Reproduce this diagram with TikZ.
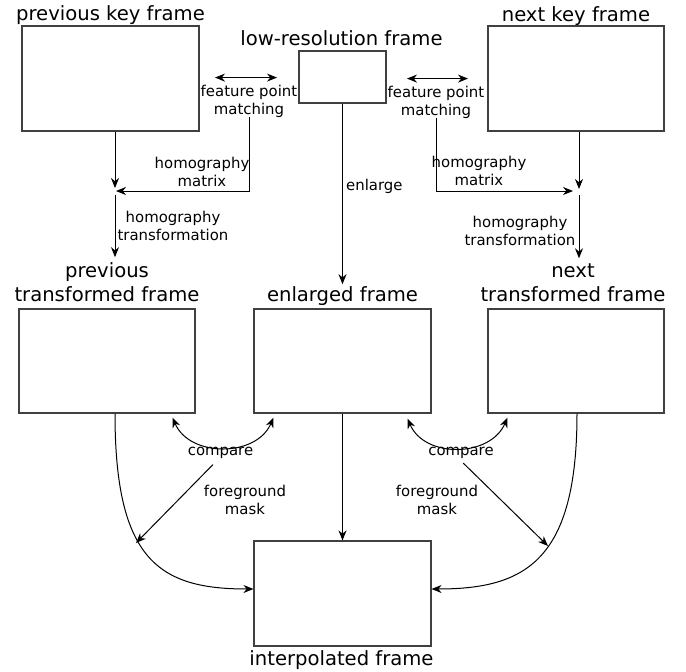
\documentclass[tikz,border=0pt]{standalone}
\usepackage{fontspec}
\setmainfont{DejaVu Sans}
\usetikzlibrary{positioning,arrows.meta}
\tikzset{
  frame/.style={draw=black!75, line width=1.1pt, minimum width=177pt, minimum height=105pt, inner sep=0pt},
  title/.style={font=\fontsize{19.6}{24}\selectfont, inner sep=0pt, align=center, text depth=0pt},
  note/.style={font=\fontsize{14.9}{18}\selectfont, inner sep=0pt, align=center},
  arr/.style={line width=1pt, -{Stealth[length=10pt,width=8pt]}},
  darr/.style={line width=1pt, {Stealth[length=10pt,width=8pt]}-{Stealth[length=10pt,width=8pt]}},
}
\begin{document}
\begin{tikzpicture}[x=1pt,y=-1pt]
  \useasboundingbox (0,0) rectangle (686,672);
  % frames
  \node[frame] (pkf) at (110.5,78.5) {};
  \node[frame, minimum width=87pt, minimum height=52pt] (lrf) at (342.5,77) {};
  \node[frame, minimum width=176pt] (nkf) at (576,78.5) {};
  \node[frame, minimum width=176pt, minimum height=104pt] (ptf) at (107,361) {};
  \node[frame, minimum height=104pt] (enf) at (342.5,361) {};
  \node[frame, minimum width=176pt, minimum height=104pt] (ntf) at (576,361) {};
  \node[frame] (ipf) at (342.5,593.5) {};
  % titles
  \node[title, above=5pt of pkf] (pkft) {previous key frame};
  \node[title, above=5pt of lrf, xshift=-1pt] (lrft) {low-resolution frame};
  \node[title, above=4pt of nkf] (nkft) {next key frame};
  \node[title, above=7pt of ptf] (ptft) {previous\\transformed frame};
  \node[title, above=7pt of enf] (enft) {enlarged frame};
  \node[title, above=7pt of ntf, xshift=-3pt] (ntft) {next\\transformed frame};
  \node[title, below=4pt of ipf, xshift=-1pt] (ipft) {interpolated frame};
  % junctions
  \coordinate (jL) at (115,191);
  \coordinate (jR) at (579,191);
  % top notes
  \node[note] (fpmL) at (249,101) {feature point\\matching};
  \node[note] (fpmR) at (436,102) {feature point\\matching};
  \node[note] (hmL) at (202,172) {homography\\matrix};
  \node[note] (htL) at (173,226) {homography\\transformation};
  \node[note] (hmR) at (479,171) {homography\\matrix};
  \node[note] (htR) at (520,231) {homography\\transformation};
  \node[note, anchor=west] (enl) at (346,186) {enlarge};
  \draw[darr] ([shift={(-34,-7)}]fpmL.north) -- ([shift={(28,-7)}]fpmL.north);
  \draw[darr] ([shift={(-29,-7)}]fpmR.north) -- ([shift={(32,-7)}]fpmR.north);
  \draw[arr, shorten >=1pt] (fpmL.south) |- (jL);
  \draw[arr, shorten >=3pt] (pkf.south -| jL) -- (jL);
  \draw[arr, shorten <=4pt, shorten >=5pt] (jL) -- (jL |- ptft.north);
  \draw[arr, shorten >=6pt] (fpmR.south) |- (jR);
  \draw[arr, shorten >=2pt] (nkf.south -| jR) -- (jR);
  \draw[arr, shorten <=4pt, shorten >=5pt] (jR) -- (jR |- ntft.north);
  \draw[arr, shorten >=2pt] (lrf.south) -- (lrf.south |- enft.north);
  % bottom notes
  \node[note] (cmpL) at (220.5,453) {compare};
  \node[note] (cmpR) at (461,453) {compare};
  \node[note] (fgmL) at (245,500) {foreground\\mask};
  \node[note] (fgmR) at (437,500) {foreground\\mask};
  \coordinate (mL) at (136,543);
  \coordinate (mR) at (548,546);
  \draw[darr] ([shift={(-23,4)}]ptf.south east) .. controls +(17,40) and +(-17,40) .. ([shift={(20,4)}]enf.south west);
  \draw[darr] ([shift={(-24,5)}]enf.south east) .. controls +(17,40) and +(-17,40) .. ([shift={(20,4)}]ntf.south west);
  \draw[arr, shorten <=8pt] ([xshift=-2pt]cmpL.south) -- (mL);
  \draw[arr, shorten <=6pt] ([xshift=-2pt]cmpR.south) -- (mR);
  \draw[arr] (ptf.south -| jL) .. controls +(0,147) and +(-94,0) .. ([yshift=4.5pt]ipf.west);
  \draw[arr] ([xshift=1pt]ntf.south) .. controls +(0,147) and +(94,0) .. ([yshift=4.5pt]ipf.east);
  \draw[arr] (enf) -- (ipf);
\end{tikzpicture}
\end{document}
